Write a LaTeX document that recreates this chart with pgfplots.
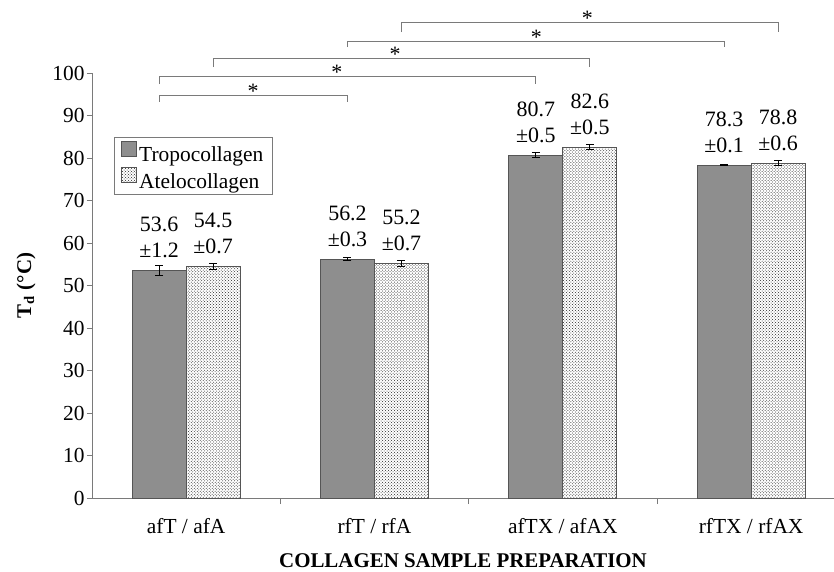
\documentclass[border=0pt]{standalone}
\usepackage{fontspec}
\setmainfont{Liberation Serif}
\usepackage{pgfplots}
\usepackage{pgfplotstable}
\pgfplotsset{compat=1.18}
\usetikzlibrary{patterns}
\definecolor{barg}{HTML}{8E8E8E}
\definecolor{edge}{HTML}{555555}
\definecolor{axg}{HTML}{7A7A7A}

\pgfplotstableread{
x y e
0 53.6 1.2
1 56.2 0.3
2 80.7 0.5
3 78.3 0.1
}\tropo
\pgfplotstableread{
x y e
0 54.5 0.7
1 55.2 0.7
2 82.6 0.5
3 78.8 0.6
}\atelo

\begin{document}
\begin{tikzpicture}
\begin{axis}[
  name=ax,
  scale only axis, width=742bp, height=425bp,
  ymin=0, ymax=100, xmin=-0.5, xmax=3.44,
  ybar=0pt, bar width=54bp,
  clip=false,
  axis x line*=bottom, axis y line*=left,
  axis line style={axg, line width=0.9bp, -},
  ytick={0,10,...,100},
  xtick={0,1,2,3},
  xticklabels={afT / afA, rfT / rfA, afTX / afAX, rfTX / rfAX},
  minor xtick={0.5,1.5,2.5},
  tick align=outside,
  major tick length=5bp, minor tick length=6bp,
  major x tick style={draw=none},
  tick style={axg, line width=0.9bp},
  /pgf/number format/assume math mode=true,
  ticklabel style={font=\fontsize{21.5}{24}\selectfont},
  yticklabel style={xshift=1bp},
  xticklabel style={yshift=-12bp},
  xlabel={\textbf{COLLAGEN SAMPLE PREPARATION}},
  xlabel style={at={(axis description cs:0.5,0)}, anchor=center, yshift=-63bp, font=\fontsize{21}{24}\selectfont},
  ylabel={\textbf{T\textsubscript{d} (°C)}},
  ylabel style={at={(axis description cs:0,0.5)}, anchor=center, yshift=66bp, font=\fontsize{21}{24}\selectfont},
  legend entries={Tropocollagen, Atelocollagen},
  legend cell align=left,
  legend style={at={(0.0296,0.849)}, anchor=north west, draw=axg, line width=0.9bp,
    font=\fontsize{21.5}{24}\selectfont, inner xsep=7bp, inner ysep=3bp, row sep=2bp},
  legend image code/.code={\draw[#1] (0bp,-1bp) rectangle (15bp,14bp);},
  nodes near coords style={font=\fontsize{22}{26}\selectfont, align=center, anchor=south, inner sep=0pt, yshift=12bp, text=black},
]
\addplot[fill=barg, draw=edge, line width=0.8bp,
  visualization depends on={\thisrow{e}\as\err},
  nodes near coords={\pgfmathprintnumber{\pgfplotspointmeta}\\±\pgfmathprintnumber{\err}},
  error bars/.cd, y dir=both, y explicit,
  error bar style={black, line width=0.8bp},
  error mark options={rotate=90, mark size=4bp, black, line width=0.8bp}]
  table[x=x, y=y, y error=e] {\tropo};
\addplot[fill=white, draw=edge, line width=0.8bp,
  postaction={pattern=crosshatch dots, pattern color=black!85},
  visualization depends on={\thisrow{e}\as\err},
  nodes near coords={\pgfmathprintnumber{\pgfplotspointmeta}\\±\pgfmathprintnumber{\err}},
  error bars/.cd, y dir=both, y explicit,
  error bar style={black, line width=0.8bp},
  error mark options={rotate=90, mark size=4bp, black, line width=0.8bp}]
  table[x=x, y=y, y error=e] {\atelo};

% significance brackets
\draw[axg, line width=1bp] (axis cs:-0.143,93.2) |- (axis cs:0.857,94.8) -- (axis cs:0.857,93.2);
\draw[axg, line width=1bp] (axis cs:-0.143,97.4) |- (axis cs:1.857,99.1) -- (axis cs:1.857,97.4);
\draw[axg, line width=1bp] (axis cs:0.143,101.4) |- (axis cs:2.143,103.3) -- (axis cs:2.143,101.4);
\draw[axg, line width=1bp] (axis cs:0.857,106.1) |- (axis cs:2.857,107.3) -- (axis cs:2.857,106.1);
\draw[axg, line width=1bp] (axis cs:1.143,109.6) |- (axis cs:3.143,111.8) -- (axis cs:3.143,109.6);
\node[anchor=base, inner sep=0pt, font=\fontsize{22}{24}\selectfont] at (axis cs:0.356,94.1) {*};
\node[anchor=base, inner sep=0pt, font=\fontsize{22}{24}\selectfont] at (axis cs:0.80,98.4) {*};
\node[anchor=base, inner sep=0pt, font=\fontsize{22}{24}\selectfont] at (axis cs:1.11,102.6) {*};
\node[anchor=base, inner sep=0pt, font=\fontsize{22}{24}\selectfont] at (axis cs:1.86,106.6) {*};
\node[anchor=base, inner sep=0pt, font=\fontsize{22}{24}\selectfont] at (axis cs:2.13,111.1) {*};
\end{axis}
\pgfresetboundingbox
\path[use as bounding box] ([shift={(-92bp,-74bp)}]ax.south west) rectangle ([shift={(742bp,498bp)}]ax.south west);
\end{tikzpicture}
\end{document}
